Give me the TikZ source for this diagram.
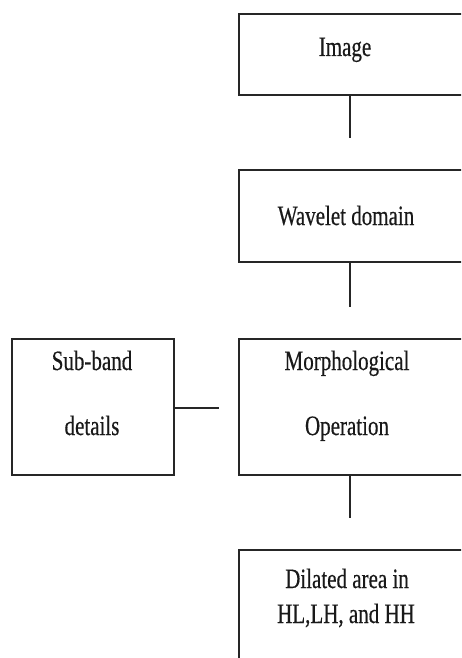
\documentclass[tikz,border=0pt]{standalone}
\usepackage{fontspec}
\setmainfont[FakeStretch=0.75,FakeBold=0.4]{Liberation Serif}
\begin{document}
\begin{tikzpicture}[x=1pt,y=1pt,
  box/.style={draw=black!85, line width=1.3pt, fill=white, outer sep=0pt, inner sep=0pt, anchor=north west},
  conn/.style={draw=black!85, line width=1.3pt},
  txt/.style={anchor=base, inner sep=0pt, text=black!90, font=\fontsize{28}{34}\selectfont}]
\useasboundingbox (0,0) rectangle (461,-658);
\clip (0,0) rectangle (461,-658);
\fill[white] (0,0) rectangle (461,-658);
% boxes
\node[box, minimum width=226pt, minimum height=81pt] (img) at (239,-14) {};
\node[box, minimum width=226pt, minimum height=92pt] (wav) at (239,-170) {};
\node[box, minimum width=226pt, minimum height=136pt] (mor) at (239,-339) {};
\node[box, minimum width=162pt, minimum height=136pt] (sub) at (12,-339) {};
\node[box, minimum width=226pt, minimum height=140pt] (dil) at (239,-550) {};
% texts
\node[txt] (timg) at (345,-56) {Image};
\node[txt] (twav) at (346,-225) {Wavelet domain};
\node[txt] (tmor1) at (347,-370) {Morphological};
\node[txt] (tmor2) at (347,-435) {Operation};
\node[txt] (tsub1) at (92,-370) {Sub-band};
\node[txt] (tsub2) at (92,-435) {details};
\node[txt] (tdil1) at (347,-588) {Dilated area in};
\node[txt] (tdil2) at (346,-623) {HL,LH, and HH};
% connectors
\draw[conn, shorten >=32pt] ([xshift=-2pt]img.south) -- ([xshift=-2pt]wav.north);
\draw[conn, shorten >=32pt] ([xshift=-2pt]wav.south) -- ([xshift=-2pt]mor.north);
\draw[conn, shorten >=32pt] ([xshift=-2pt]mor.south) -- ([xshift=-2pt]dil.north);
\draw[conn, shorten >=20pt] ([yshift=-1pt]sub.east) -- ([yshift=-1pt]mor.west);
\end{tikzpicture}
\end{document}
